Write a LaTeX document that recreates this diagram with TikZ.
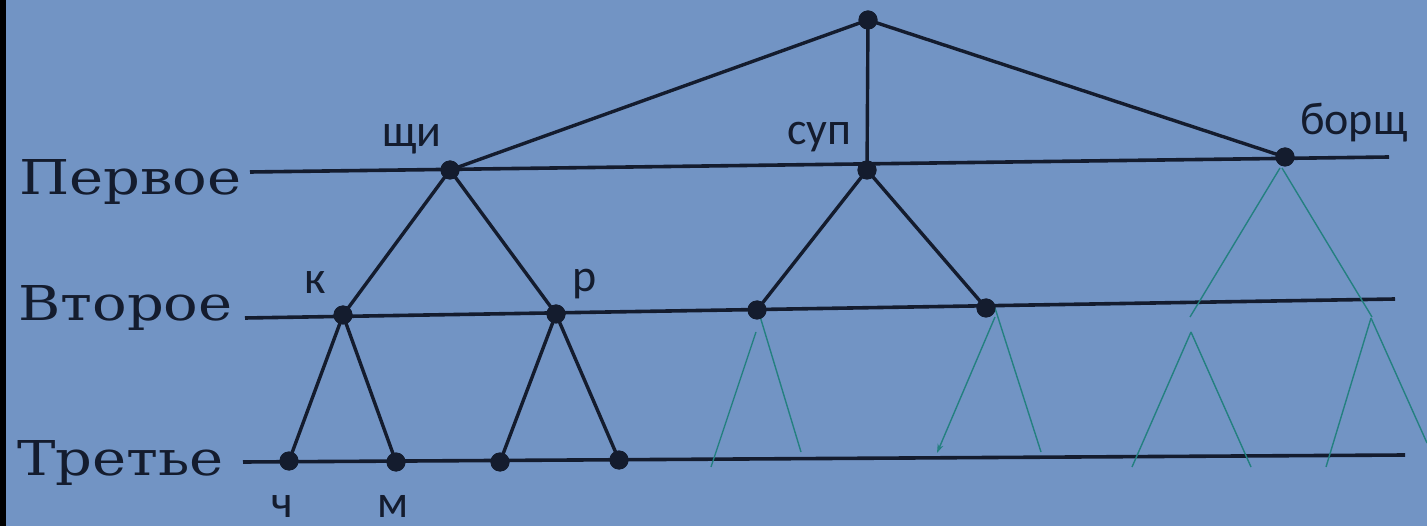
\documentclass[tikz,border=0pt]{standalone}
\usepackage{fontspec}
\setmainfont{DejaVu Serif}
\newfontfamily\labfont{Carlito}
\usetikzlibrary{arrows.meta}
\definecolor{bg}{RGB}{114,148,196}
\definecolor{ink}{RGB}{20,28,46}
\definecolor{hand}{RGB}{36,128,128}
\begin{document}
\begin{tikzpicture}[x=1pt,y=-1pt,
  dot/.style={circle,fill=ink,inner sep=0pt,minimum size=19pt},
  edge/.style={draw=ink,line width=3.4pt},
  lvline/.style={draw=ink,line width=3.6pt},
  handline/.style={draw=hand,line width=1.4pt},
  lvlabel/.style={anchor=base west,inner sep=0pt,text=ink,font=\fontsize{48}{52}\selectfont},
  lab/.style={anchor=base west,inner sep=0pt,text depth=0pt,text=ink,font=\labfont\fontsize{46}{50}\selectfont}]
\useasboundingbox (0,0) rectangle (1427,526);
\fill[bg] (0,0) rectangle (1427,526);
\fill[black] (0,0) rectangle (6,526);

% level lines
\coordinate (l1a) at (250,172); \coordinate (l1b) at (1389,157);
\coordinate (l2a) at (245,318); \coordinate (l2b) at (1395,299);
\coordinate (l3a) at (243,462); \coordinate (l3b) at (1405,455);
\draw[lvline] (l1a) -- (l1b);
\draw[lvline] (l2a) -- (l2b);
\draw[lvline] (l3a) -- (l3b);

% level labels
\node[lvlabel] (first) at (19,195) {\scalebox{1.2}[1]{Первое}};
\node[lvlabel] (second) at (18,321) {\scalebox{1.2}[1]{Второе}};
\node[lvlabel] (third) at (17,475) {\scalebox{1.2}[1]{Третье}};

% nodes
\node[dot] (root) at (868,20) {};
\node[dot] (shchi) at (450,170) {};
\node[dot] (sup) at (867,170) {};
\node[dot] (borsh) at (1285,157) {};
\node[dot] (k) at (343,315) {};
\node[dot] (r) at (556,314) {};
\node[dot] (s1) at (757,310) {};
\node[dot] (s2) at (986,308) {};
\node[dot] (t1) at (289,461) {};
\node[dot] (t2) at (396,462) {};
\node[dot] (t3) at (500,462) {};
\node[dot] (t4) at (619,460) {};

% edges
\draw[edge] (root.center) -- (shchi.center);
\draw[edge] (root.center) -- (sup.center);
\draw[edge] (root.center) -- (borsh.center);
\draw[edge] (shchi.center) -- (k.center);
\draw[edge] (shchi.center) -- (r.center);
\draw[edge] (sup.center) -- (s1.center);
\draw[edge] (sup.center) -- (s2.center);
\draw[edge] (k.center) -- (t1.center);
\draw[edge] (k.center) -- (t2.center);
\draw[edge] (r.center) -- (t3.center);
\draw[edge] (r.center) -- (t4.center);

% labels
\node[lab] (lshchi) at (382,147) {щи};
\node[lab] (lsup) at (787,145) {суп};
\node[lab] (lborsh) at (1300,135) {борщ};
\node[lab] (lk) at (304,294) {к};
\node[lab] (lr) at (572,292) {р};
\node[lab] (lch) at (271,517) {ч};
\node[lab] (lm) at (377,517) {м};

% hand-drawn teal lines
\coordinate (a1) at (756,303); \coordinate (a2) at (801,452);
\coordinate (b1) at (756,332); \coordinate (b2) at (711,467);
\coordinate (c1) at (995,317); \coordinate (c2) at (937,453);
\coordinate (d1) at (995,308); \coordinate (d2) at (1041,452);
\coordinate (e1) at (1280,168); \coordinate (e2) at (1190,317);
\coordinate (f1) at (1282,168); \coordinate (f2) at (1372,317);
\coordinate (g1) at (1191,332); \coordinate (g2) at (1132,467);
\coordinate (h2) at (1251,467);
\coordinate (i1) at (1371,318); \coordinate (i2) at (1326,467);
\coordinate (j2) at (1427,443);
\draw[handline] (a1) -- (a2);
\draw[handline] (b1) -- (b2);
\draw[handline,-{Stealth[length=9pt,width=6pt]}] (c1) -- (c2);
\draw[handline] (d1) -- (d2);
\draw[handline] (e1) -- (e2);
\draw[handline] (f1) -- (f2);
\draw[handline] (g1) -- (g2);
\draw[handline] (g1) -- (h2);
\draw[handline] (i1) -- (i2);
\draw[handline] (i1) -- (j2);

% redraw dots on top
\foreach \n in {root,shchi,sup,borsh,k,r,s1,s2,t1,t2,t3,t4}
  \fill[ink] (\n.center) circle (9.5pt);
\end{tikzpicture}
\end{document}
